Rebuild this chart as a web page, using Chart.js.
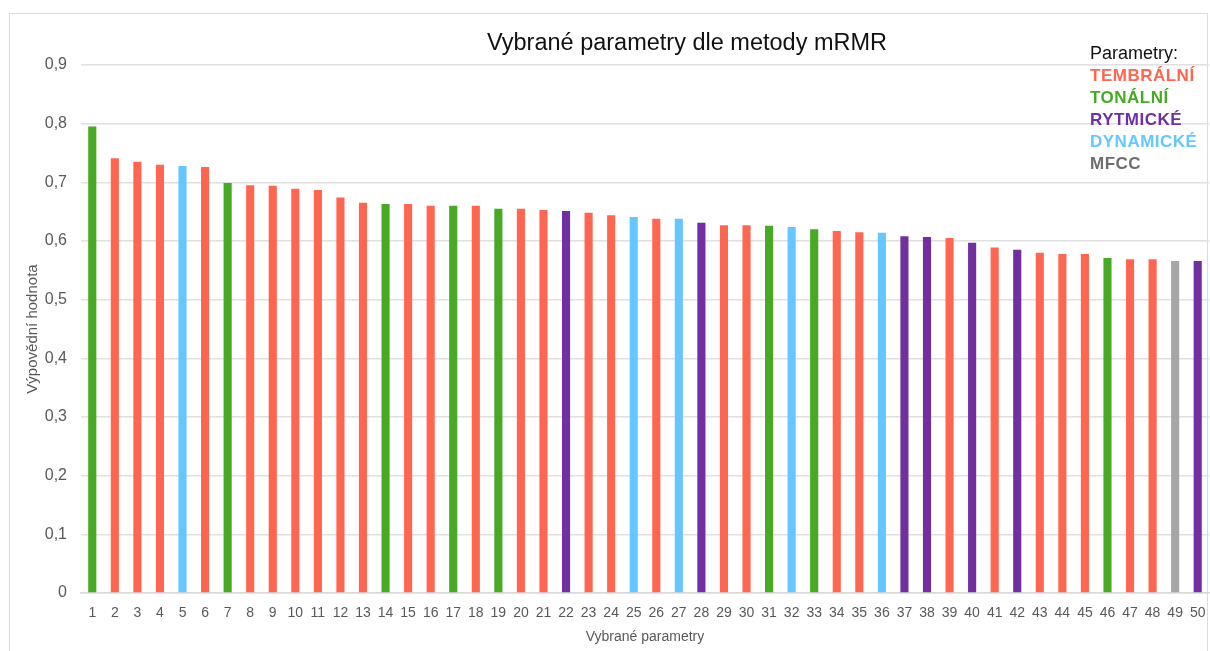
<!DOCTYPE html>
<html lang="cs">
<head>
<meta charset="utf-8">
<title>Vybrané parametry dle metody mRMR</title>
<script src="https://cdn.jsdelivr.net/npm/chart.js@4/dist/chart.umd.min.js"></script>
<style>
  html, body { margin: 0; padding: 0; background: #fff; }
  body { width: 1210px; height: 651px; position: relative; overflow: hidden; font-family: "Liberation Sans", Arial, sans-serif; }
  #frame { position: absolute; left: 9px; top: 13px; width: 1199px; height: 660px; border: 1px solid #dcdcdc; box-sizing: border-box; }
  #chart { position: absolute; left: 0; top: 0; }
  #title { position: absolute; left: 687px; top: 29px; transform: translateX(-50%); font-size: 23.5px; color: #111; white-space: nowrap; }
  #legend { position: absolute; left: 1090px; top: 42px; line-height: 22px; }
  #legend .head { font-size: 18px; color: #111; }
  #legend .item { font-size: 17px; font-weight: bold; letter-spacing: 0.5px; position: relative; top: 1px; }
</style>
</head>
<body>
<div id="frame"></div>
<canvas id="chart" width="1210" height="651"></canvas>
<div id="title">Vybrané parametry dle metody mRMR</div>
<div id="legend"></div>

<script>
// kategorie na ose x (pořadí vybraných parametrů)
const labels = Array.from({ length: 50 }, (_, i) => String(i + 1));

// výpovědní hodnota každého parametru
const values = [
  0.795, 0.741, 0.735, 0.730, 0.728, 0.726, 0.699, 0.695, 0.694, 0.689,
  0.687, 0.674, 0.665, 0.663, 0.663, 0.660, 0.660, 0.660, 0.655, 0.655,
  0.653, 0.651, 0.648, 0.644, 0.641, 0.638, 0.638, 0.631, 0.627, 0.627,
  0.626, 0.624, 0.620, 0.617, 0.615, 0.614, 0.608, 0.607, 0.605, 0.597,
  0.589, 0.585, 0.580, 0.578, 0.578, 0.571, 0.569, 0.569, 0.566, 0.566
];

// skupina parametru pro každý sloupec
const groups = [
  "TONÁLNÍ", "TEMBRÁLNÍ", "TEMBRÁLNÍ", "TEMBRÁLNÍ", "DYNAMICKÉ", "TEMBRÁLNÍ", "TONÁLNÍ", "TEMBRÁLNÍ", "TEMBRÁLNÍ", "TEMBRÁLNÍ",
  "TEMBRÁLNÍ", "TEMBRÁLNÍ", "TEMBRÁLNÍ", "TONÁLNÍ", "TEMBRÁLNÍ", "TEMBRÁLNÍ", "TONÁLNÍ", "TEMBRÁLNÍ", "TONÁLNÍ", "TEMBRÁLNÍ",
  "TEMBRÁLNÍ", "RYTMICKÉ", "TEMBRÁLNÍ", "TEMBRÁLNÍ", "DYNAMICKÉ", "TEMBRÁLNÍ", "DYNAMICKÉ", "RYTMICKÉ", "TEMBRÁLNÍ", "TEMBRÁLNÍ",
  "TONÁLNÍ", "DYNAMICKÉ", "TONÁLNÍ", "TEMBRÁLNÍ", "TEMBRÁLNÍ", "DYNAMICKÉ", "RYTMICKÉ", "RYTMICKÉ", "TEMBRÁLNÍ", "RYTMICKÉ",
  "TEMBRÁLNÍ", "RYTMICKÉ", "TEMBRÁLNÍ", "TEMBRÁLNÍ", "TEMBRÁLNÍ", "TONÁLNÍ", "TEMBRÁLNÍ", "TEMBRÁLNÍ", "MFCC", "RYTMICKÉ"
];

// legenda: názvy skupin a jejich barvy
const groupNames = ["TEMBRÁLNÍ", "TONÁLNÍ", "RYTMICKÉ", "DYNAMICKÉ", "MFCC"];
const barColors = ["#ff6651", "#47a924", "#7030a0", "#66c6ff", "#a6a6a6"];
const legendColors = ["#ff6651", "#47a924", "#7030a0", "#66c6ff", "#6e6e6e"];

// popisky osy y
const yTicks = [0, 0.1, 0.2, 0.3, 0.4, 0.5, 0.6, 0.7, 0.8, 0.9];

const colorOf = g => barColors[groupNames.indexOf(g)];

// legenda jako HTML text
const legend = document.getElementById("legend");
legend.innerHTML = '<div class="head">Parametry:</div>' +
  groupNames.map((g, i) => `<div class="item" style="color:${legendColors[i]}">${g}</div>`).join("");

const textGray = "#595959";
const font = { family: "'Liberation Sans', Arial, sans-serif", size: 16 };

new Chart(document.getElementById("chart"), {
  type: "bar",
  data: {
    labels: labels,
    datasets: [{
      label: "Výpovědní hodnota",
      data: values,
      backgroundColor: groups.map(colorOf),
      barPercentage: 0.36,
      categoryPercentage: 1.0
    }]
  },
  options: {
    responsive: false,
    animation: false,
    layout: { padding: { top: 65, left: 20, right: 1, bottom: 5 } },
    plugins: {
      legend: { display: false },
      title: { display: false },
      tooltip: { enabled: false }
    },
    scales: {
      x: {
        afterFit: axis => {
          axis.height = 53;
          axis.paddingLeft = 0;
          axis.paddingRight = 0;
        },
        grid: { display: false, drawTicks: false },
        border: { display: true, color: "#d9d9d9", width: 1.5 },
        ticks: { color: textGray, font: { ...font, size: 14 }, padding: 12, maxRotation: 0, autoSkip: false },
        title: { display: true, text: "Vybrané parametry", color: textGray, font: { ...font, size: 14 }, padding: { top: 4, bottom: 0 } }
      },
      y: {
        min: 0,
        max: 0.9,
        afterFit: axis => { axis.width = 61; },
        afterBuildTicks: axis => { axis.ticks = yTicks.map(v => ({ value: v })); },
        grid: { color: "#e0e0e0", lineWidth: 1.5, drawTicks: false },
        border: { display: false },
        ticks: {
          color: textGray,
          font: font,
          padding: 14,
          callback: v => v === 0 ? "0" : v.toFixed(1).replace(".", ",")
        },
        title: { display: true, text: "Výpovědní hodnota", color: textGray, font: { ...font, size: 15 }, padding: { top: 4, bottom: 4 } }
      }
    }
  }
});
</script>
</body>
</html>
